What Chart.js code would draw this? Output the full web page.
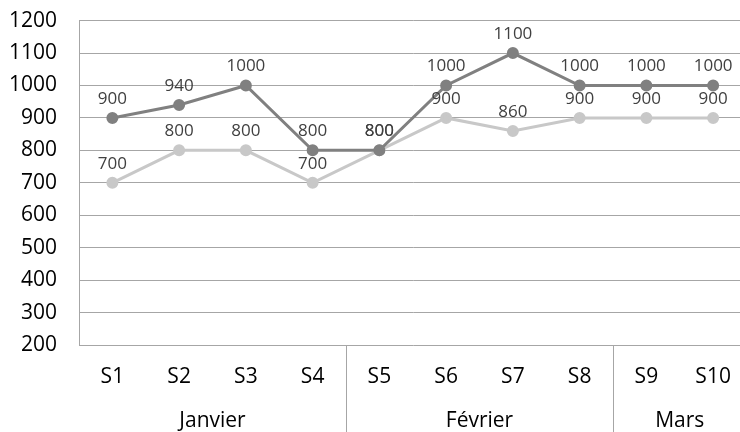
<!DOCTYPE html>
<html lang="fr">
<head>
    <meta charset="UTF-8">
    <title>Semaines</title>
    <script src="https://cdn.jsdelivr.net/npm/chart.js"></script>
    <style>
        html, body { margin: 0; padding: 0; background: #fff; overflow: hidden; }
        #wrap { width: 754px; height: 446px; margin-top: -14px; }
    </style>
</head>
<body>
    <div id="wrap"><canvas id="myChart"></canvas></div>
    <script>
        const weeks = ['S1', 'S2', 'S3', 'S4', 'S5', 'S6', 'S7', 'S8', 'S9', 'S10'];
        const months = ['Janvier', 'Février', 'Mars'];
        const monthSpans = [4, 4, 2];
        const seriesDark = [900, 940, 1000, 800, 800, 1000, 1100, 1000, 1000, 1000];
        const seriesLight = [700, 800, 800, 700, 800, 900, 860, 900, 900, 900];
        const yTicks = [200, 300, 400, 500, 600, 700, 800, 900, 1000, 1100, 1200];

        const FONT = '"Open Sans", "Noto Sans", sans-serif';
        const lineGray = '#a6a6a6';

        // labels above each point + month row under the week labels
        const extras = {
            id: 'extras',
            afterDatasetsDraw(chart) {
                const ctx = chart.ctx;
                ctx.save();
                ctx.font = '17px ' + FONT;
                ctx.fillStyle = '#404040';
                ctx.textAlign = 'center';
                ctx.textBaseline = 'middle';
                chart.data.datasets.forEach((ds, i) => {
                    chart.getDatasetMeta(i).data.forEach((pt, j) => {
                        ctx.fillText(String(ds.data[j]), pt.x, pt.y - 19);
                    });
                });
                ctx.restore();
            },
            afterDraw(chart) {
                const ctx = chart.ctx;
                const x = chart.scales.x;
                const area = chart.chartArea;
                const step = x.getPixelForValue(1) - x.getPixelForValue(0);
                ctx.save();
                ctx.strokeStyle = lineGray;
                ctx.lineWidth = 1;
                ctx.font = '21px ' + FONT;
                ctx.fillStyle = '#000';
                ctx.textAlign = 'center';
                ctx.textBaseline = 'middle';
                let start = 0;
                months.forEach((m, k) => {
                    const left = x.getPixelForValue(start) - step / 2;
                    const right = x.getPixelForValue(start + monthSpans[k] - 1) + step / 2;
                    if (k > 0) {
                        ctx.beginPath();
                        ctx.moveTo(Math.round(left) + 0.5, area.bottom);
                        ctx.lineTo(Math.round(left) + 0.5, chart.height);
                        ctx.stroke();
                    }
                    ctx.fillText(m, (left + right) / 2, area.bottom + 76);
                    start += monthSpans[k];
                });
                ctx.restore();
            }
        };

        new Chart(document.getElementById('myChart'), {
            type: 'line',
            data: {
                labels: weeks,
                datasets: [{
                    data: seriesDark,
                    borderColor: '#808080',
                    backgroundColor: '#808080',
                    borderWidth: 3,
                    pointRadius: 4.5,
                    pointHoverRadius: 4.5
                }, {
                    data: seriesLight,
                    borderColor: '#c8c8c8',
                    backgroundColor: '#c8c8c8',
                    borderWidth: 3,
                    pointRadius: 4.5,
                    pointHoverRadius: 4.5
                }]
            },
            options: {
                responsive: true,
                maintainAspectRatio: false,
                animation: false,
                layout: { padding: 0 },
                plugins: {
                    legend: { display: false },
                    tooltip: { enabled: false }
                },
                scales: {
                    x: {
                        offset: true,
                        grid: { display: false, drawTicks: false },
                        border: { display: false },
                        ticks: {
                            color: '#000',
                            font: { family: FONT, size: 21 },
                            padding: 19,
                            maxRotation: 0
                        },
                        afterFit(scale) { scale.height = 87; }
                    },
                    y: {
                        min: 200,
                        max: 1200,
                        afterBuildTicks(scale) { scale.ticks = yTicks.map(v => ({ value: v })); },
                        grid: { color: lineGray, lineWidth: 1, drawTicks: false },
                        border: { display: true, color: lineGray },
                        ticks: {
                            color: '#000',
                            font: { family: FONT, size: 21 },
                            padding: 22,
                            callback: v => String(v)
                        },
                        afterFit(scale) { scale.width = 79; }
                    }
                }
            },
            plugins: [extras]
        });
    </script>
</body>
</html>
